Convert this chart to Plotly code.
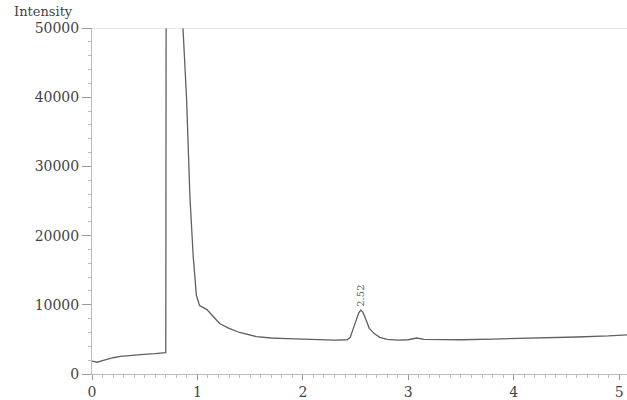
import plotly.graph_objects as go

# retention time (min) and intensity
time = [0.00, 0.02, 0.05, 0.10, 0.14, 0.20, 0.27, 0.35, 0.49, 0.60, 0.69, 0.700,
        0.705, 0.75, 0.80, 0.840, 0.863, 0.897, 0.929, 0.96, 0.99, 1.02, 1.09,
        1.15, 1.21, 1.30, 1.40, 1.56, 1.70, 1.85, 2.00, 2.13, 2.30, 2.42, 2.45,
        2.47, 2.50, 2.53, 2.55, 2.57, 2.60, 2.63, 2.68, 2.73, 2.80, 2.90, 3.00,
        3.08, 3.15, 3.30, 3.50, 3.80, 4.00, 4.30, 4.60, 4.90, 5.075]
intensity = [1850, 1750, 1700, 1950, 2130, 2350, 2560, 2700, 2840, 2950, 3050, 3100,
             80000, 90000, 85000, 65000, 50000, 39800, 25600, 17000, 11400, 9900, 9300,
             8300, 7300, 6600, 6000, 5400, 5200, 5100, 5000, 5000, 4900, 4950, 5300,
             6200, 7600, 8800, 9250, 8900, 7800, 6600, 5800, 5300, 5000, 4900, 4950,
             5200, 5000, 4950, 4950, 5050, 5100, 5200, 5350, 5500, 5650]

peak_label_time = 2.55
peak_label_text = "2.52"
peak_label_y = 9400

y_tickvals = [0, 10000, 20000, 30000, 40000, 50000]
y_ticktext = ["0", "10000", "20000", "30000", "40000", "50000"]
x_tickvals = [0, 1, 2, 3, 4, 5]

axis_font = dict(family="DejaVu Serif", size=14, color="#444444")

fig = go.Figure()
fig.add_trace(go.Scatter(x=time, y=intensity, mode="lines",
                         line=dict(color="#606060", width=1.3),
                         showlegend=False, cliponaxis=True))

fig.add_annotation(x=peak_label_time, y=peak_label_y, text=peak_label_text,
                   showarrow=False, textangle=-90, yanchor="bottom",
                   font=dict(family="DejaVu Serif", size=10, color="#555555"))
fig.add_annotation(xref="paper", yref="paper", x=-0.09, xanchor="center",
                   y=1, yanchor="bottom", yshift=7, text="Intensity", showarrow=False,
                   font=dict(family="DejaVu Serif", size=13, color="#444444"))
fig.add_shape(type="line", xref="paper", yref="y", x0=0, x1=1, y0=50000, y1=50000,
              line=dict(color="#cccccc", width=1))

fig.update_layout(
    width=627, height=400,
    margin=dict(l=92, r=0, t=28, b=20),
    paper_bgcolor="white", plot_bgcolor="white",
    xaxis=dict(range=[0, 5.075], tickvals=x_tickvals, showgrid=False, zeroline=False,
               showline=True, linecolor="#bbbbbb", linewidth=1,
               ticks="outside", ticklen=5, tickcolor="#999999",
               minor=dict(dtick=0.1, ticks="outside", ticklen=3, tickcolor="#bbbbbb"),
               tickfont=axis_font),
    yaxis=dict(range=[0, 50000], tickvals=y_tickvals, ticktext=y_ticktext,
               showgrid=False, zeroline=False,
               showline=True, linecolor="#bbbbbb", linewidth=1,
               ticks="outside", ticklen=9, tickcolor="#999999",
               minor=dict(dtick=2000, ticks="outside", ticklen=3, tickcolor="#bbbbbb"),
               tickfont=axis_font),
)

fig.write_html("out.html")
